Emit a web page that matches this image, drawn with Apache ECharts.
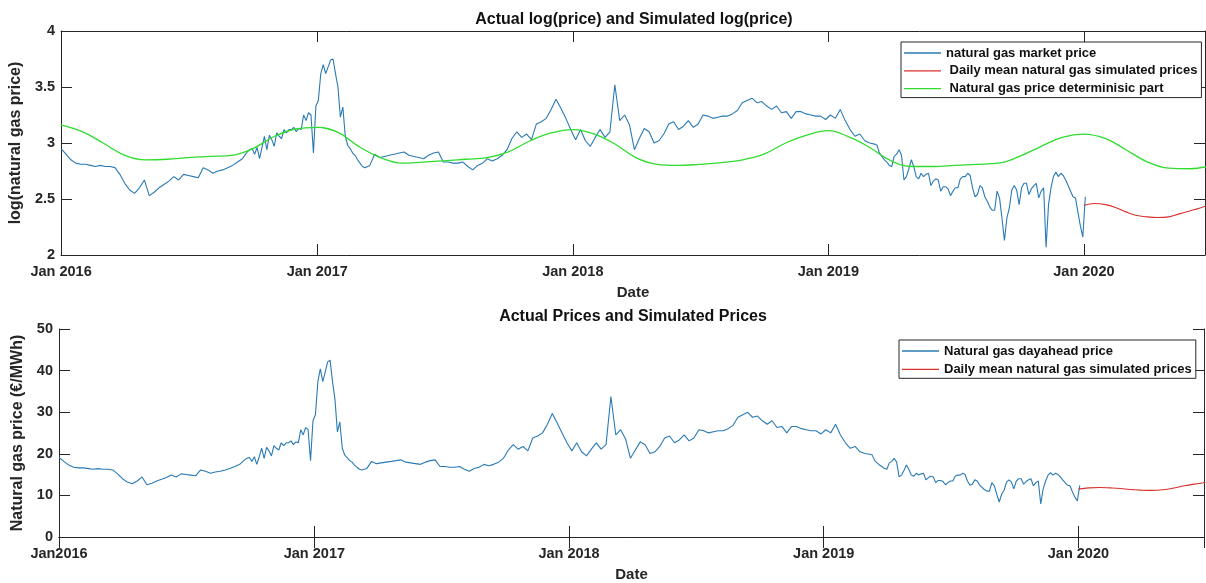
<!DOCTYPE html>
<html>
<head>
<meta charset="utf-8">
<script src="https://cdn.jsdelivr.net/npm/echarts@6/dist/echarts.min.js"></script>
<style>
html,body{margin:0;padding:0;background:#fff;}
#c{width:1206px;height:583px;}
</style>
</head>
<body>
<div id="c"></div>
<script>
// ---- DATA ----
// log(market price) in four consecutive segments
// segment 1: weekly from 2016-01-01
const seg1Start = '2016-01-01', seg1StepDays = 7;
const logPriceSeg1 = [
  2.95, 2.90, 2.85, 2.82, 2.81, 2.81, 2.80, 2.79, 2.80, 2.79, 2.79, 2.78, 2.72,
  2.64, 2.58, 2.55, 2.60, 2.67, 2.53, 2.56, 2.60, 2.63, 2.66, 2.70, 2.67, 2.72,
  2.71, 2.70, 2.69, 2.78, 2.76, 2.73, 2.75, 2.76, 2.78, 2.80, 2.83, 2.86
];
// segment 2: twice weekly from 2016-09-23 (winter 2016/17)
const seg2Start = '2016-09-23', seg2StepDays = 3.5;
const logPriceSeg2 = [
  2.92, 2.94, 2.95, 2.90, 2.96, 2.86, 2.96, 3.06, 2.94, 3.07, 3.03, 2.97,
  3.09, 3.06, 3.04, 3.12, 3.09, 3.12, 3.12, 3.14, 3.10, 3.13, 3.12, 3.25,
  3.20, 3.27, 3.25, 2.91, 3.33, 3.38, 3.62, 3.70, 3.62, 3.68, 3.74, 3.75,
  3.62, 3.50, 3.23, 3.32, 3.06, 2.98, 2.95, 2.91, 2.89, 2.85, 2.82, 2.79
];
// segment 3: weekly from 2017-03-10
const seg3Start = '2017-03-10', seg3StepDays = 7;
const logPriceSeg3 = [
  2.78, 2.80, 2.90, 2.87, 2.88, 2.89, 2.90, 2.91,
  2.92, 2.89, 2.88, 2.87, 2.86, 2.89, 2.91, 2.92, 2.83, 2.83, 2.82, 2.82, 2.83, 2.79, 2.76, 2.80, 2.82, 2.86, 2.84, 2.86,
  2.89, 2.94, 3.04, 3.10, 3.05, 3.08, 3.03, 3.17, 3.19, 3.22, 3.30, 3.39, 3.31, 3.22, 3.12, 3.03, 3.12, 3.02, 2.97, 3.05,
  3.12, 3.05, 3.10, 3.52, 3.20, 3.25, 3.16,
  2.94, 3.04, 3.13, 3.10, 3.00, 3.02, 3.08, 3.17, 3.19, 3.12,
  3.15, 3.20, 3.14, 3.17, 3.25, 3.24, 3.22, 3.23, 3.24, 3.24,
  3.26, 3.29, 3.36, 3.38, 3.40, 3.36, 3.37, 3.33, 3.30, 3.33,
  3.27, 3.28, 3.22, 3.28, 3.28, 3.26, 3.25, 3.24, 3.24, 3.21,
  3.25, 3.22, 3.30, 3.20, 3.12, 3.06, 3.08, 3.02, 3.00
];
// segment 4: twice weekly from 2019-03-08
const seg4Start = '2019-03-08', seg4StepDays = 3.5;
const logPriceSeg4 = [
  2.99, 2.98, 2.91, 2.88, 2.85, 2.83, 2.80, 2.79, 2.88, 2.90, 2.94, 2.89,
  2.67, 2.70, 2.77, 2.85, 2.79, 2.70, 2.68, 2.73, 2.70, 2.72, 2.73, 2.62,
  2.66, 2.68, 2.67, 2.57, 2.61, 2.61, 2.59, 2.53, 2.57, 2.60, 2.60, 2.68,
  2.70, 2.70, 2.73, 2.71, 2.60, 2.52, 2.54, 2.62, 2.60, 2.52, 2.48, 2.43,
  2.40, 2.40, 2.57, 2.51, 2.33, 2.13, 2.33, 2.42, 2.58, 2.62, 2.58, 2.45,
  2.60, 2.64, 2.64, 2.54, 2.59, 2.62, 2.64, 2.51, 2.57, 2.60, 2.07, 2.45,
  2.60, 2.70, 2.74, 2.70, 2.73, 2.71, 2.67, 2.62, 2.57, 2.52, 2.51, 2.38,
  2.26, 2.16, 2.52
];

// simulated (2020) daily-mean series
const simDates = ['2020-01-01','2020-01-16','2020-02-01','2020-02-15','2020-03-01','2020-03-15','2020-04-01',
                  '2020-04-15','2020-05-01','2020-05-15','2020-06-01','2020-06-15','2020-07-01'];
const simLogPrice = [2.445, 2.46, 2.45, 2.425, 2.385, 2.355, 2.34, 2.335, 2.34, 2.365, 2.395, 2.42, 2.455];
const simPrice    = [11.5, 11.8, 11.9, 11.8, 11.65, 11.4, 11.25, 11.2, 11.35, 11.7, 12.3, 12.7, 13.1];

// deterministic part, first day of each month 2016-01 .. 2020-07
const detStartYear = 2016;
const detLogPrice = [
  3.16, 3.10, 3.00, 2.89, 2.85, 2.855, 2.87, 2.88, 2.89, 2.95, 3.06, 3.125,
  3.14, 3.09, 2.97, 2.87, 2.82, 2.83, 2.84, 2.855, 2.87, 2.92, 3.02, 3.09,
  3.12, 3.08, 2.995, 2.87, 2.81, 2.80, 2.81, 2.825, 2.85, 2.90, 3.00, 3.07,
  3.11, 3.05, 2.96, 2.84, 2.79, 2.79, 2.80, 2.81, 2.82, 2.88, 2.97, 3.05,
  3.08, 3.04, 2.94, 2.83, 2.775, 2.77, 2.80
];

const topTickLabels    = ['Jan 2016', 'Jan 2017', 'Jan 2018', 'Jan 2019', 'Jan 2020'];
const bottomTickLabels = ['Jan2016', 'Jan 2017', 'Jan 2018', 'Jan 2019', 'Jan 2020'];
const topYTicks = ['2', '2.5', '3', '3.5', '4'];
const bottomYTicks = ['0', '10', '20', '30', '40', '50'];

// ---- BUILD ----
const DAY = 864e5;
function pad(n){ return (n < 10 ? '0' : '') + n; }
function fmt(d){ return d.getFullYear() + '-' + pad(d.getMonth() + 1) + '-' + pad(d.getDate()); }
function segment(start, step, vals) {
  const p = start.split('-').map(Number);
  const t0 = new Date(p[0], p[1] - 1, p[2]).getTime();
  return vals.map((v, k) => [t0 + k * step * DAY, v]);
}
const logMarket = [].concat(
  segment(seg1Start, seg1StepDays, logPriceSeg1),
  segment(seg2Start, seg2StepDays, logPriceSeg2),
  segment(seg3Start, seg3StepDays, logPriceSeg3),
  segment(seg4Start, seg4StepDays, logPriceSeg4)
);
const detDates = detLogPrice.map((_, i) => fmt(new Date(detStartYear, i, 1)));

const FONT = '"Liberation Sans", Arial, Helvetica, sans-serif';
const AX = '#262626';
const BLUE = '#2a7ab4', RED = '#d9302c', GREEN = '#2fdc2f';
const YEAR = 365 * DAY;

function xAxisPair(grid, max, labels) {
  const base = {
    type: 'time', gridIndex: grid, min: '2016-01-01', max: max,
    minInterval: YEAR, maxInterval: 366 * DAY,
    splitLine: { show: false },
    axisLine: { lineStyle: { color: AX, width: 1 } },
    axisTick: { inside: true, length: 11, lineStyle: { color: AX } }
  };
  return [
    Object.assign({}, base, {
      position: 'bottom',
      name: 'Date', nameLocation: 'middle', nameGap: 30,
      nameTextStyle: { fontFamily: FONT, fontWeight: 'bold', fontSize: 15, color: AX },
      axisLabel: {
        margin: 9, fontFamily: FONT, fontWeight: 'bold', fontSize: 14.5, color: AX,
        showMinLabel: true, showMaxLabel: false, hideOverlap: false,
        formatter: v => { const d = new Date(v); return labels[d.getFullYear() - 2016] || ''; }
      }
    }),
    Object.assign({}, base, { position: 'top', axisLabel: { show: false } })
  ];
}
function yAxisPair(grid, min, max, interval, labels, name, gap) {
  const base = {
    type: 'value', gridIndex: grid, min: min, max: max, interval: interval,
    splitLine: { show: false },
    axisLine: { show: true, lineStyle: { color: AX, width: 1 } },
    axisTick: { show: true, inside: true, length: 11, lineStyle: { color: AX } }
  };
  return [
    Object.assign({}, base, {
      position: 'left', name: name, nameLocation: 'middle', nameGap: gap,
      nameTextStyle: { fontFamily: FONT, fontWeight: 'bold', fontSize: 16, color: AX },
      axisLabel: {
        margin: 6, fontFamily: FONT, fontWeight: 'bold', fontSize: 14.5, color: AX,
        formatter: v => labels[Math.round((v - min) / interval)]
      }
    }),
    Object.assign({}, base, { position: 'right', axisLabel: { show: false } })
  ];
}

const legendText = { fontFamily: FONT, fontWeight: 'bold', fontSize: 13, lineHeight: 14, color: '#111' };

const option = {
  animation: false,
  backgroundColor: '#fff',
  title: [
    { text: 'Actual log(price) and Simulated log(price)', left: 634, top: 12, textAlign: 'center', padding: 0,
      textStyle: { fontFamily: FONT, fontWeight: 'bold', fontSize: 16, color: '#111' } },
    { text: 'Actual Prices and Simulated Prices', left: 633, top: 309, textAlign: 'center', padding: 0,
      textStyle: { fontFamily: FONT, fontWeight: 'bold', fontSize: 16, color: '#111' } }
  ],
  legend: [
    { data: ['natural gas market price', ' Daily mean natural gas simulated prices', ' Natural gas price determinisic part'],
      orient: 'vertical', left: 901, top: 42, icon: 'rect', itemWidth: 37, itemHeight: 1.3, itemGap: 3.8,
      padding: [4, 4, 2, 3], borderColor: AX, borderWidth: 1, borderRadius: 0, backgroundColor: '#fff',
      textStyle: legendText, selectedMode: false },
    { data: ['Natural gas dayahead price', 'Daily mean natural gas simulated prices'],
      orient: 'vertical', left: 899, top: 340, icon: 'rect', itemWidth: 37, itemHeight: 1.3, itemGap: 4.3,
      padding: [4, 4, 2, 3], borderColor: AX, borderWidth: 1, borderRadius: 0, backgroundColor: '#fff',
      textStyle: legendText, selectedMode: false }
  ],
  grid: [
    { left: 58, top: 31, width: 1147, height: 224, containLabel: false },
    { left: 59, top: 329, width: 1145, height: 209, containLabel: false }
  ],
  xAxis: [].concat(xAxisPair(0, '2020-06-22', topTickLabels), xAxisPair(1, '2020-06-29', bottomTickLabels)),
  yAxis: [].concat(
    yAxisPair(0, 2, 4, 0.5, topYTicks, 'log(natural gas price)', 31),
    yAxisPair(1, 0, 50, 10, bottomYTicks, 'Natural gas price (€/MWh)', 26)
  ),
  series: [
    { name: 'natural gas market price', type: 'line', xAxisIndex: 0, yAxisIndex: 0, symbol: 'none',
      lineStyle: { color: BLUE, width: 1.1 }, itemStyle: { color: BLUE },
      data: logMarket },
    { name: ' Daily mean natural gas simulated prices', type: 'line', xAxisIndex: 0, yAxisIndex: 0, symbol: 'none',
      smooth: 0.4, lineStyle: { color: RED, width: 1.1 }, itemStyle: { color: RED },
      data: simDates.map((d, i) => [d, simLogPrice[i]]) },
    { name: ' Natural gas price determinisic part', type: 'line', xAxisIndex: 0, yAxisIndex: 0, symbol: 'none',
      smooth: 0.4, lineStyle: { color: GREEN, width: 1.3 }, itemStyle: { color: GREEN },
      data: detDates.map((d, i) => [d, detLogPrice[i]]) },
    { name: 'Natural gas dayahead price', type: 'line', xAxisIndex: 2, yAxisIndex: 2, symbol: 'none',
      lineStyle: { color: BLUE, width: 1.1 }, itemStyle: { color: BLUE },
      data: logMarket.map(p => [p[0], Math.exp(p[1])]) },
    { name: 'Daily mean natural gas simulated prices', type: 'line', xAxisIndex: 2, yAxisIndex: 2, symbol: 'none',
      smooth: 0.4, lineStyle: { color: RED, width: 1.1 }, itemStyle: { color: RED },
      data: simDates.map((d, i) => [d, simPrice[i]]) }
  ]
};
const chart = echarts.init(document.getElementById('c'), null, { renderer: 'canvas' });
chart.setOption(option);
</script>
</body>
</html>
